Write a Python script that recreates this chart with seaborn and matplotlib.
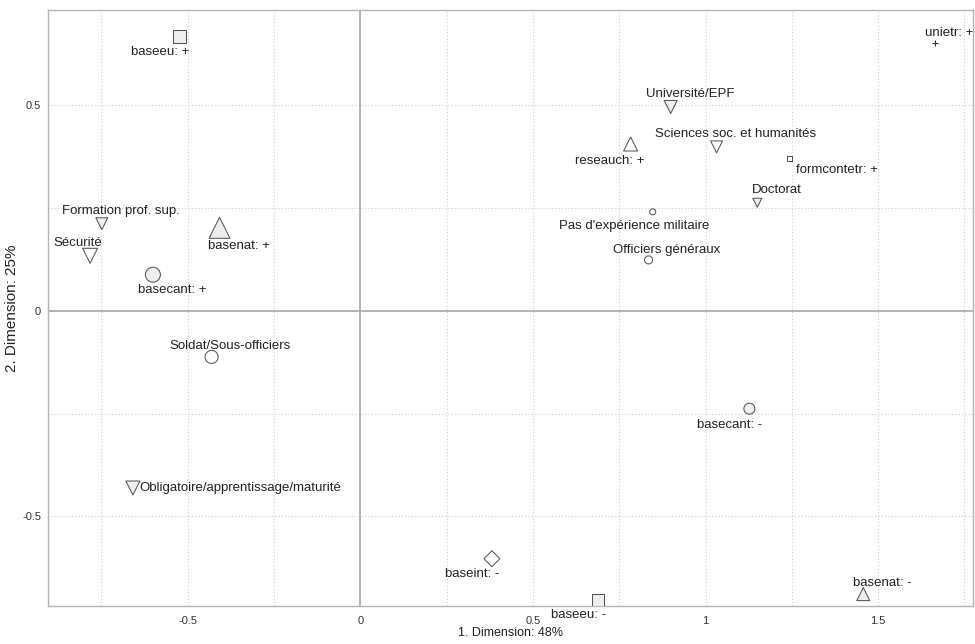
import matplotlib
matplotlib.use("Agg")
import matplotlib.pyplot as plt
from matplotlib.ticker import MultipleLocator, FixedLocator
import numpy as np
import pandas as pd
import seaborn as sns

# Category coordinates on the first two dimensions
labels = [
    "baseeu: +", "Formation prof. sup.", "Sécurité", "basenat: +", "basecant: +",
    "reseauch: +", "Pas d'expérience militaire", "Officiers généraux",
    "Université/EPF", "Sciences soc. et humanités", "formcontetr: +", "Doctorat",
    "Soldat/Sous-officiers", "Obligatoire/apprentissage/maturité",
    "basecant: -", "baseint: -", "baseeu: -", "basenat: -",
]
dim1 = [-0.523, -0.749, -0.783, -0.408, -0.601,
        0.783, 0.847, 0.835,
        0.899, 1.032, 1.243, 1.150,
        -0.431, -0.659,
        1.127, 0.381, 0.688, 1.457]
dim2 = [0.667, 0.212, 0.134, 0.202, 0.088,
        0.406, 0.241, 0.124,
        0.496, 0.399, 0.370, 0.263,
        -0.112, -0.431,
        -0.238, -0.603, -0.703, -0.689]
variable = ["baseeu", "formation", "domaine", "basenat", "basecant",
            "reseauch", "militaire", "militaire",
            "formation", "domaine", "formcontetr", "formation",
            "militaire", "formation",
            "basecant", "baseint", "baseeu", "basenat"]
shade = ["grey", "grey", "white", "grey", "grey",
         "white", "white", "white",
         "grey", "white", "white", "grey",
         "white", "grey",
         "grey", "white", "grey", "grey"]

# Supplementary point drawn as a line-art marker
extra_label = ["unietr: +"]
extra_dim1 = [1.665]
extra_dim2 = [0.652]

# Marker widths (points) and label offsets (points) for each category
marker_w = [9.4, 8.6, 10.8, 15.1, 10.8,
            10.1, 4.3, 5.8,
            9.4, 8.6, 3.6, 6.5,
            9.4, 10.1,
            7.9, 8.1, 8.2, 9.4]
label_off = [(-14, -11), (14, 9), (-9, 9), (14, -13), (14, -11),
             (-15, -12), (-13, -10), (13, 7),
             (14, 9), (14, 9), (34, -8), (14, 9),
             (13, 8), (77, 0),
             (-14, -12), (-14, -11), (-14, -11), (14, 8)]
extra_off = [(10, 7)]

markers = {"baseeu": "s", "formation": "v", "domaine": "v", "basenat": "^",
           "basecant": "o", "reseauch": "^", "militaire": "o",
           "formcontetr": "s", "baseint": "D"}

df = pd.DataFrame({"label": labels, "dim1": dim1, "dim2": dim2,
                   "variable": variable, "shade": shade})
extra = pd.DataFrame({"label": extra_label, "dim1": extra_dim1, "dim2": extra_dim2})

sns.set_theme(style="white")
plt.rcParams["font.family"] = ["Liberation Sans", "DejaVu Sans"]

fig = plt.figure(figsize=(9.75, 6.44), dpi=100)
ax = fig.add_axes([0.0492, 0.059, 0.9488, 0.9255])

ax.set_xlim(-0.905, 1.775)
ax.set_ylim(-0.718, 0.732)

# Grid every 0.25, labels every 0.5
ax.xaxis.set_major_locator(FixedLocator([-0.5, 0, 0.5, 1, 1.5]))
ax.yaxis.set_major_locator(FixedLocator([-0.5, 0, 0.5]))
ax.xaxis.set_minor_locator(MultipleLocator(0.25))
ax.yaxis.set_minor_locator(MultipleLocator(0.25))
ax.set_xticklabels(["-0.5", "0", "0.5", "1", "1.5"])
ax.set_yticklabels(["-0.5", "0", "0.5"])
ax.grid(True, which="both", color="#cfcfcf", linestyle=(0, (1, 2)), linewidth=0.8)
ax.set_axisbelow(True)
ax.tick_params(which="both", length=0)
ax.tick_params(axis="x", labelsize=8, colors="#333333", pad=7)
ax.tick_params(axis="y", labelsize=8, colors="#333333", pad=5)

for sp in ax.spines.values():
    sp.set_color("#b5b5b5")
    sp.set_linewidth(1.0)

ax.axhline(0, color="#a8a8a8", linewidth=1.2, zorder=1)
ax.axvline(0, color="#a8a8a8", linewidth=1.2, zorder=1)

sns.scatterplot(data=df, x="dim1", y="dim2", style="variable", markers=markers,
                hue="shade", palette={"grey": "#eeeeee", "white": "#ffffff"},
                size="label", sizes=dict(zip(labels, [w * w for w in marker_w])),
                edgecolor="#555555", linewidth=0.75, legend=False, ax=ax, zorder=3)
sns.scatterplot(data=extra, x="dim1", y="dim2", marker="+", s=20,
                color="#333333", linewidth=0.8, legend=False, ax=ax, zorder=3)

for lab, x, y, off in zip(labels, dim1, dim2, label_off):
    ax.annotate(lab, (x, y), xytext=off, textcoords="offset points",
                ha="center", va="center", fontsize=9.5, color="#222222", zorder=4)
for lab, x, y, off in zip(extra_label, extra_dim1, extra_dim2, extra_off):
    ax.annotate(lab, (x, y), xytext=off, textcoords="offset points",
                ha="center", va="center", fontsize=9.5, color="#222222", zorder=4)

ax.set_xlabel("1. Dimension: 48%", fontsize=9, color="#222222", labelpad=1)
ax.set_ylabel("2. Dimension: 25%", fontsize=11, color="#222222", labelpad=2)

fig.savefig("out.png", dpi=100)
